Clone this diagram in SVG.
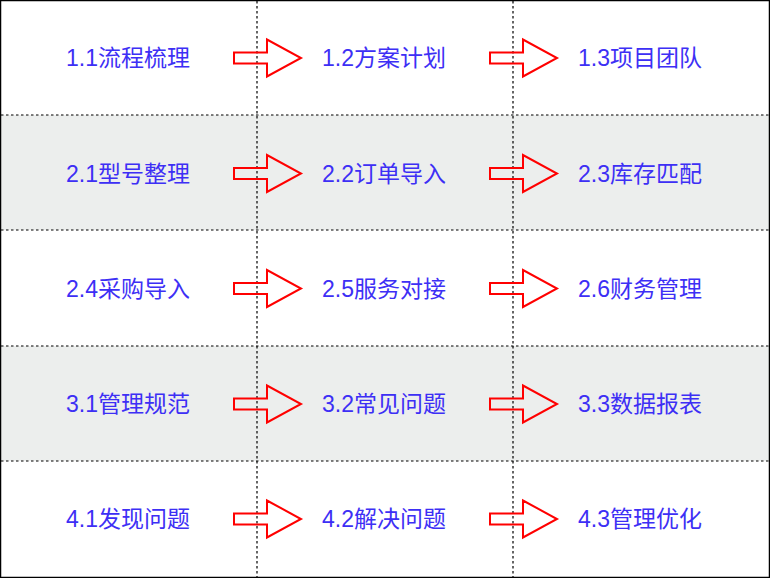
<svg xmlns="http://www.w3.org/2000/svg" width="770" height="578" viewBox="0 0 770 578">
<defs>
<style>
.t{font-family:"Liberation Sans","Noto Sans CJK SC",sans-serif;font-size:23px;fill:#3d2ff5;text-anchor:middle;dominant-baseline:central}
.d{stroke:#000;stroke-width:1.2;stroke-dasharray:2.5,2.5;fill:none}
.a{fill:none;stroke:#ff0000;stroke-width:2}
</style>
<path id="ar" class="a" d="M0,-5.5 H33 V-18.5 L67,0 L33,18.5 V5.5 H0 Z"/>
</defs>
<rect x="0" y="0" width="770" height="578" fill="#fff"/>
<rect x="1" y="115" width="768" height="115" fill="#eceeed"/>
<rect x="1" y="346" width="768" height="115" fill="#eceeed"/>
<g id="grid">
<line class="d" x1="257" y1="1" x2="257" y2="577"/>
<line class="d" x1="513" y1="1" x2="513" y2="577"/>
<line class="d" x1="1" y1="115" x2="769" y2="115"/>
<line class="d" x1="1" y1="230" x2="769" y2="230"/>
<line class="d" x1="1" y1="346" x2="769" y2="346"/>
<line class="d" x1="1" y1="461" x2="769" y2="461"/>
</g>
<rect x="0.5" y="0.5" width="769" height="577" fill="none" stroke="#000" stroke-width="1.5"/>
<g id="connectors">
<use href="#ar" x="234" y="58"/><use href="#ar" x="490" y="58"/>
<use href="#ar" x="234" y="173.5"/><use href="#ar" x="490" y="173.5"/>
<use href="#ar" x="234" y="288.5"/><use href="#ar" x="490" y="288.5"/>
<use href="#ar" x="234" y="404"/><use href="#ar" x="490" y="404"/>
<use href="#ar" x="234" y="519"/><use href="#ar" x="490" y="519"/>
</g>
<g id="n11"><text class="t" x="128" y="58">1.1流程梳理</text></g>
<g id="n12"><text class="t" x="384" y="58">1.2方案计划</text></g>
<g id="n13"><text class="t" x="640" y="58">1.3项目团队</text></g>
<g id="n21"><text class="t" x="128" y="173.5">2.1型号整理</text></g>
<g id="n22"><text class="t" x="384" y="173.5">2.2订单导入</text></g>
<g id="n23"><text class="t" x="640" y="173.5">2.3库存匹配</text></g>
<g id="n24"><text class="t" x="128" y="288.5">2.4采购导入</text></g>
<g id="n25"><text class="t" x="384" y="288.5">2.5服务对接</text></g>
<g id="n26"><text class="t" x="640" y="288.5">2.6财务管理</text></g>
<g id="n31"><text class="t" x="128" y="404">3.1管理规范</text></g>
<g id="n32"><text class="t" x="384" y="404">3.2常见问题</text></g>
<g id="n33"><text class="t" x="640" y="404">3.3数据报表</text></g>
<g id="n41"><text class="t" x="128" y="519">4.1发现问题</text></g>
<g id="n42"><text class="t" x="384" y="519">4.2解决问题</text></g>
<g id="n43"><text class="t" x="640" y="519">4.3管理优化</text></g>
</svg>
